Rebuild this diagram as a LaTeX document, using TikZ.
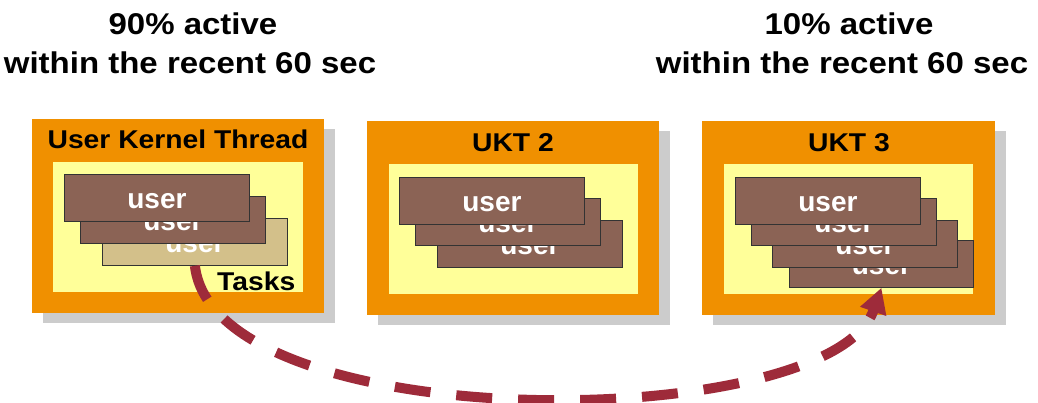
\documentclass[tikz,border=0pt]{standalone}
\usepackage{fontspec}
\setmainfont{Liberation Sans}
\newfontfamily\widefont{Liberation Sans}[FakeStretch=1.1]
\usetikzlibrary{arrows.meta,shadows}
\definecolor{ukorange}{HTML}{F09000}
\definecolor{ukyellow}{HTML}{FFFF99}
\definecolor{ukbrown}{HTML}{8B6355}
\definecolor{uktan}{HTML}{D3C08A}
\definecolor{ukshadow}{HTML}{CCCCCC}
\definecolor{ukred}{HTML}{9E2B3A}
\definecolor{ukedge}{HTML}{333333}
\begin{document}
\begin{tikzpicture}[x=1pt,y=-1pt,
  ukt/.style={anchor=north west, inner sep=0pt, fill=ukorange, minimum height=194pt,
    drop shadow={shadow xshift=11pt, shadow yshift=-10pt, fill=ukshadow, opacity=1}},
  pool/.style={anchor=north west, inner sep=0pt, fill=ukyellow, minimum height=130pt},
  ktitle/.style={anchor=base, inner sep=0pt, font=\widefont\fontsize{25.7}{26}\selectfont\bfseries},
  headline/.style={anchor=base, inner sep=0pt, font=\widefont\fontsize{30}{30}\selectfont\bfseries},
  task/.style={anchor=north west, draw=ukedge, line width=0.8pt, fill=ukbrown, text=white,
    inner sep=0pt, minimum width=185pt, text height=34pt, text depth=13pt,
    font=\fontsize{28}{28}\selectfont\bfseries},
  flow/.style={draw=ukred, line width=10pt, dash pattern=on 36pt off 26pt,
    -{Triangle[length=25pt,width=26pt]}}
]
\useasboundingbox (0,0) rectangle (1038,403);

% top texts
\node[headline] (h1a) at (193,35) {90\% active};
\node[headline] (h1b) at (190,74) {within the recent 60 sec};
\node[headline] (h2a) at (849,35) {10\% active};
\node[headline] (h2b) at (842,74) {within the recent 60 sec};

% kernel thread boxes
\node[ukt, minimum width=292pt] (k1) at (32,119) {};
\node[ukt, minimum width=292pt] (k2) at (367,121) {};
\node[ukt, minimum width=293pt] (k3) at (702,121) {};

\node[pool, minimum width=250pt] (p1) at (53,162) {};
\node[pool, minimum width=249pt] (p2) at (389,164) {};
\node[pool, minimum width=249pt] (p3) at (724,164) {};

\node[ktitle] (t1) at (178,149) {User Kernel Thread};
\node[ktitle] (t2) at (513,152) {UKT 2};
\node[ktitle] (t3) at (849,152) {UKT 3};

% tasks in box 1
\node[task, fill=uktan] (u1c) at (102,218) {user};
\node[task] (u1b) at (80,196) {user};
\node[task] (u1a) at (64,174) {user};
\node[ktitle, anchor=base west] (tasks) at (217,290) {Tasks};

% tasks in box 2
\node[task] (u2c) at (437,220) {user};
\node[task] (u2b) at (415,198) {user};
\node[task] (u2a) at (399,177) {user};

% tasks in box 3
\node[task, minimum width=184pt] (u3d) at (789,240) {user};
\node[task] (u3c) at (772,220) {user};
\node[task] (u3b) at (751,198) {user};
\node[task] (u3a) at (735,177) {user};

% migration arc
\draw[flow] (u1c.south) .. controls (215,439) and (830,435) .. (u3d.south);
\end{tikzpicture}
\end{document}
